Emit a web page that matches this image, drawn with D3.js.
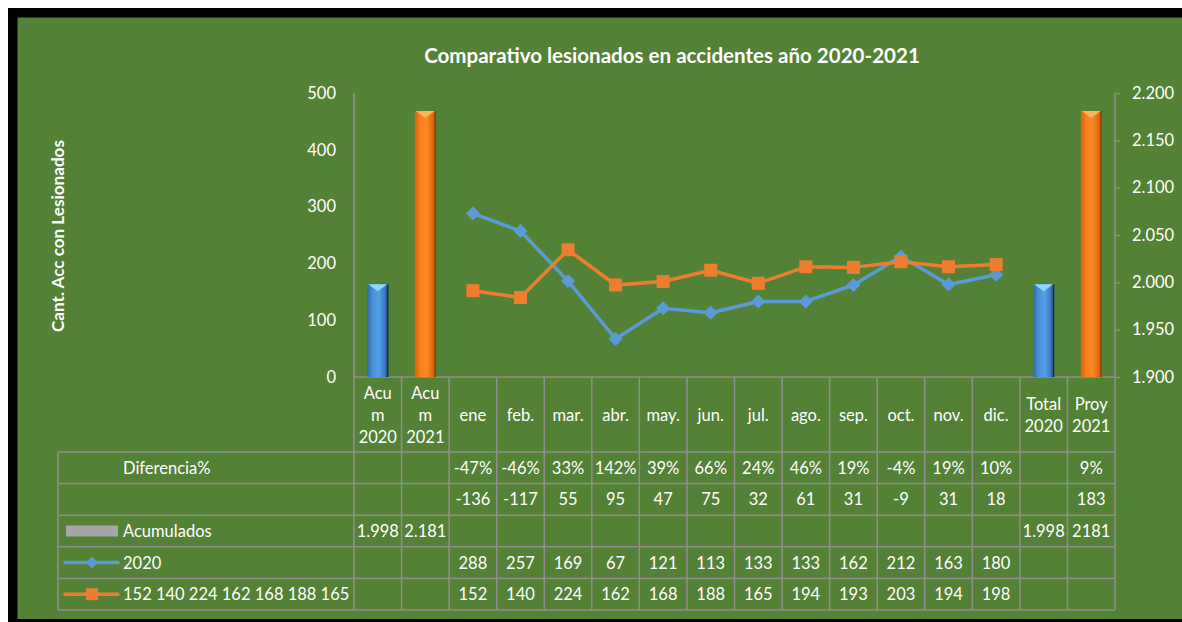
<!DOCTYPE html>
<html><head><meta charset="utf-8">
<script src="https://cdn.jsdelivr.net/npm/d3@7"></script>
<style>html,body{margin:0;padding:0;background:#fff;}svg{display:block;font-family:Lato,"Open Sans",sans-serif;}</style>
</head><body>
<svg id="chart" width="1182" height="622"></svg>
<script>
// ---------- DATA ----------
const categories = ["Acum 2020","Acum 2021","ene","feb.","mar.","abr.","may.","jun.","jul.","ago.","sep.","oct.","nov.","dic.","Total 2020","Proy 2021"];
const categoryLabelLines = [["Acu","m","2020"],["Acu","m","2021"],["ene"],["feb."],["mar."],["abr."],["may."],["jun."],["jul."],["ago."],["sep."],["oct."],["nov."],["dic."],["Total","2020"],["Proy","2021"]];
const months = ["ene","feb.","mar.","abr.","may.","jun.","jul.","ago.","sep.","oct.","nov.","dic."];
const acumulados = [1998, 2181, null, null, null, null, null, null, null, null, null, null, null, null, 1998, 2181];
const acumuladosColor = ["2020","2021",null,null,null,null,null,null,null,null,null,null,null,null,"2020","2021"];
const acumuladosLabels = ["1.998","2.181","","","","","","","","","","","","","1.998","2181"];
const series2020 = [288, 257, 169, 67, 121, 113, 133, 133, 162, 212, 163, 180];
const series2021 = [152, 140, 224, 162, 168, 188, 165, 194, 193, 203, 194, 198];
const diferenciaPct = ["","","-47%","-46%","33%","142%","39%","66%","24%","46%","19%","-4%","19%","10%","","9%"];
const diferenciaAbs = ["","","-136","-117","55","95","47","75","32","61","31","-9","31","18","","183"];
const leftTicks = [0, 100, 200, 300, 400, 500];
const rightTicks = [1900, 1950, 2000, 2050, 2100, 2150, 2200];
const rightTickLabels = ["1.900","1.950","2.000","2.050","2.100","2.150","2.200"];
const legendLabels = ["Diferencia%", "", "Acumulados", "2020", "152 140 224 162 168 188 165"];
const titleText = "Comparativo lesionados en accidentes año 2020-2021";
const yTitleText = "Cant. Acc con Lesionados";

// ---------- LAYOUT ----------
const svg = d3.select("#chart");
const W = 1182, H = 622;
const green = "#538135", gridCol = "#8e8e8e";
const plotL = 354, plotR = 1115, plotT = 93, plotB = 377;
const tableL = 58, headerB = 452, rowH = 31.6;
const fs = 16.5;

svg.append("rect").attr("x",0).attr("y",0).attr("width",W).attr("height",H).attr("fill","#fff");
svg.append("rect").attr("x",8).attr("y",8).attr("width",W).attr("height",H).attr("fill","#000");
svg.append("rect").attr("x",17.5).attr("y",17.5).attr("width",W).attr("height",619-17.5).attr("fill",green);

const x = d3.scaleBand().domain(categories).range([plotL, plotR]).padding(0);
const yL = d3.scaleLinear().domain([0, 500]).range([plotB, plotT]);
const yR = d3.scaleLinear().domain([1900, 2200]).range([plotB, plotT]);
const cx = c => x(c) + x.bandwidth()/2;

function fit(sel, target){
  const len = sel.node().getComputedTextLength();
  const f = parseFloat(sel.attr("font-size"));
  sel.attr("font-size", (f*target/len).toFixed(2));
}

// title
const title = svg.append("text").attr("x",672).attr("y",63).attr("text-anchor","middle")
  .attr("font-size",18).attr("font-weight","bold").attr("fill","#fff").text(titleText);
fit(title, 496);

// y title
const yt = svg.append("text").attr("transform","translate(64,236) rotate(-90)").attr("text-anchor","middle")
  .attr("font-size",15).attr("font-weight","bold").attr("fill","#fff").text(yTitleText);
fit(yt, 192);

// left axis
const axL = svg.append("g").attr("transform",`translate(${plotL},0)`)
  .call(d3.axisLeft(yL).tickValues(leftTicks).tickSize(0).tickSizeOuter(0).tickPadding(18));
axL.select(".domain").attr("stroke",gridCol).attr("stroke-width",1.3);
axL.selectAll("text").attr("fill","#fff").attr("font-size",fs).attr("font-family","Lato");

// right axis
const axR = svg.append("g").attr("transform",`translate(${plotR},0)`)
  .call(d3.axisRight(yR).tickValues(rightTicks).tickFormat((d,i)=>rightTickLabels[i]).tickSize(5).tickSizeOuter(0).tickPadding(12));
axR.select(".domain").remove();
axR.selectAll("line").attr("stroke",gridCol).attr("stroke-width",1.3);
axR.selectAll("text").attr("fill","#fff").attr("font-size",fs).attr("font-family","Lato");

// ---------- TABLE ----------
const tg = svg.append("g").attr("stroke",gridCol).attr("stroke-width",1.5).attr("fill","none");
tg.append("line").attr("x1",plotL).attr("x2",plotR).attr("y1",plotB).attr("y2",plotB);
for(let r=0;r<=5;r++){
  const yy = headerB + r*rowH;
  tg.append("line").attr("x1",tableL).attr("x2",plotR).attr("y1",yy).attr("y2",yy);
}
const tableBottom = headerB + 5*rowH;
tg.append("line").attr("x1",tableL).attr("x2",tableL).attr("y1",headerB).attr("y2",tableBottom);
categories.forEach(c=>{
  tg.append("line").attr("x1",x(c)).attr("x2",x(c)).attr("y1",x(c)===plotL?plotT:plotB).attr("y2",tableBottom);
});
tg.append("line").attr("x1",plotR).attr("x2",plotR).attr("y1",plotT).attr("y2",tableBottom);

// category labels
const lh = 22, headerMid = 415;
categories.forEach((c,i)=>{
  const lines = categoryLabelLines[i];
  lines.forEach((t,j)=>{
    svg.append("text").attr("x",cx(c)).attr("y",headerMid + (j-(lines.length-1)/2)*lh)
      .attr("text-anchor","middle").attr("dominant-baseline","central")
      .attr("font-size",fs).attr("fill","#fff").text(t);
  });
});

// table rows
const rowsData = [diferenciaPct, diferenciaAbs, acumuladosLabels,
  categories.map(c=>{const k=months.indexOf(c); return k>=0?String(series2020[k]):"";}),
  categories.map(c=>{const k=months.indexOf(c); return k>=0?String(series2021[k]):"";})];
rowsData.forEach((row,r)=>{
  const yy = headerB + (r+0.5)*rowH;
  row.forEach((t,i)=>{
    if(!t) return;
    svg.append("text").attr("x",cx(categories[i])).attr("y",yy)
      .attr("text-anchor","middle").attr("dominant-baseline","central")
      .attr("font-size",fs).attr("fill","#fff").text(t);
  });
  svg.append("text").attr("x",123).attr("y",yy).attr("dominant-baseline","central")
    .attr("font-size",fs).attr("fill","#fff").text(legendLabels[r]);
});

// legend symbols
const symX = 92;
svg.append("rect").attr("x",66).attr("y",headerB+2.5*rowH-5.5).attr("width",52).attr("height",11).attr("fill","#a5a5a5");
const ly2020 = headerB+3.5*rowH, ly2021 = headerB+4.5*rowH;
svg.append("line").attr("x1",65).attr("x2",118).attr("y1",ly2020).attr("y2",ly2020).attr("stroke","#5b9bd5").attr("stroke-width",3.5).attr("stroke-linecap","round");
svg.append("path").attr("d",d3.symbol(d3.symbolSquare,72)()).attr("transform",`translate(${symX},${ly2020}) rotate(45)`).attr("fill","#5b9bd5");
svg.append("line").attr("x1",65).attr("x2",118).attr("y1",ly2021).attr("y2",ly2021).attr("stroke","#ed7d31").attr("stroke-width",3.5).attr("stroke-linecap","round");
svg.append("path").attr("d",d3.symbol(d3.symbolSquare,144)()).attr("transform",`translate(${symX},${ly2021})`).attr("fill","#ed7d31");

// ---------- BARS ----------
const defs = svg.append("defs");
function grad(id, stops){
  const g = defs.append("linearGradient").attr("id",id).attr("x1","0%").attr("x2","100%").attr("y1","0%").attr("y2","0%");
  stops.forEach(s=>g.append("stop").attr("offset",s[0]).attr("stop-color",s[1]));
}
grad("g2020", [["0%","#2f6aa8"],["25%","#4a8fd6"],["55%","#55a0ea"],["85%","#3a78bd"],["100%","#16355e"]]);
grad("g2021", [["0%","#d8650c"],["25%","#f7801c"],["55%","#ff8a26"],["85%","#de6a12"],["100%","#9c4506"]]);
const capCol = {"2020":"#8fd8ff","2021":"#ffb25a"};
const edgeCol = {"2020":"#0f2a4d","2021":"#8a3c05"};
const bw = 21;
categories.forEach((c,i)=>{
  const v = acumulados[i];
  if(v==null) return;
  const s = acumuladosColor[i];
  const x0 = cx(c) - bw/2, top = yR(v);
  svg.append("rect").attr("x",x0).attr("y",top).attr("width",bw).attr("height",yR(1900)-top)
    .attr("fill",`url(#g${s})`);
  svg.append("line").attr("x1",x0+bw-0.5).attr("x2",x0+bw-0.5).attr("y1",top).attr("y2",yR(1900)).attr("stroke",edgeCol[s]).attr("stroke-width",1);
  svg.append("path").attr("d",`M${x0+1},${top}L${x0+bw-1},${top}L${cx(c)},${top+7}Z`).attr("fill",capCol[s]);
});

// ---------- LINES ----------
const line = d3.line().x((d,i)=>cx(months[i])).y(d=>yL(d));
svg.append("path").datum(series2020).attr("d",line).attr("fill","none").attr("stroke","#5b9bd5").attr("stroke-width",3.5).attr("stroke-linejoin","round");
svg.selectAll(".m2020").data(series2020).enter().append("path")
  .attr("d",d3.symbol(d3.symbolSquare,100)()).attr("transform",(d,i)=>`translate(${cx(months[i])},${yL(d)}) rotate(45)`).attr("fill","#5b9bd5");
svg.append("path").datum(series2021).attr("d",line).attr("fill","none").attr("stroke","#ed7d31").attr("stroke-width",3.5).attr("stroke-linejoin","round");
svg.selectAll(".m2021").data(series2021).enter().append("path")
  .attr("d",d3.symbol(d3.symbolSquare,169)()).attr("transform",(d,i)=>`translate(${cx(months[i])},${yL(d)})`).attr("fill","#ed7d31");
</script>
</body></html>
